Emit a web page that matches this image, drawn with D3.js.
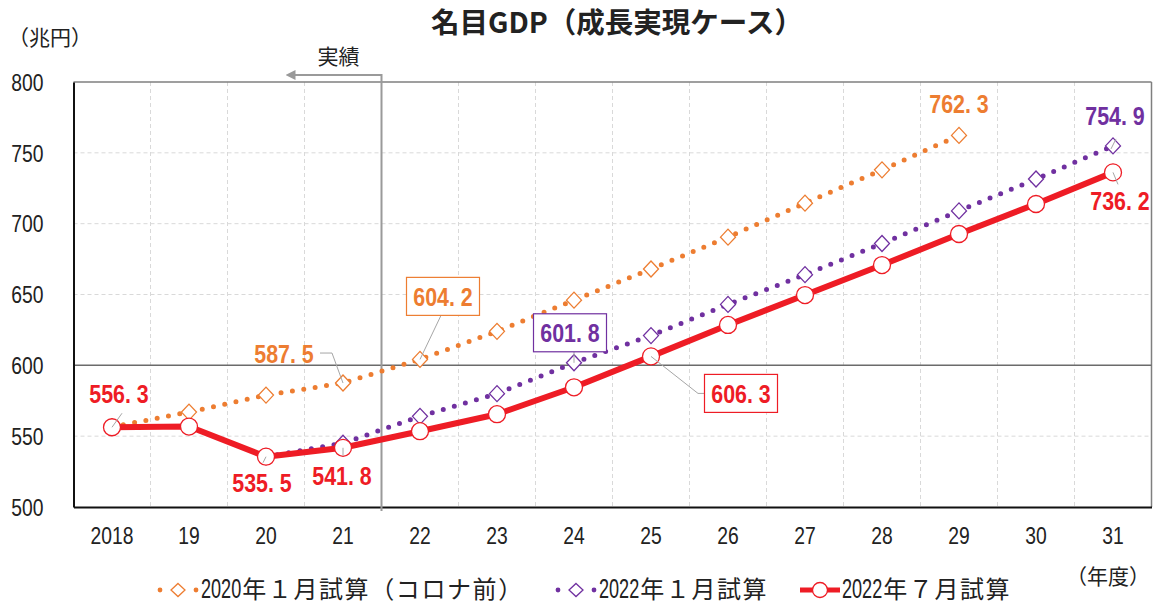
<!DOCTYPE html>
<html>
<head>
<meta charset="utf-8">
<script src="https://cdn.jsdelivr.net/npm/d3@7"></script>
<style>
  body { margin: 0; background: #fff; }
  text { font-family: "Liberation Sans", "Noto Sans CJK JP", sans-serif; }
  .cjk { font-family: "Noto Sans CJK JP", sans-serif; }
</style>
</head>
<body>
<div id="chart"></div>
<script>
// data
var years = ["2018", "19", "20", "21", "22", "23", "24", "25", "26", "27", "28", "29", "30", "31"];
var jan2020 = [556.5, 567, 579, 587.5, 604.2, 624, 646, 668, 690.5, 714.5, 738, 762.3, null, null];
var jan2022 = [null, null, 535.5, 545, 564, 580, 601.8, 621, 643, 664, 686, 709, 731.5, 754.9];
var jul2022 = [556.3, 556.8, 535.5, 541.8, 553.5, 565.5, 584.5, 606.3, 628.5, 649.6, 670.8, 692.7, 713.9, 736.2];
var yTicks = [500, 550, 600, 650, 700, 750, 800];
var seriesNames = ["2020年１月試算（コロナ前）", "2022年１月試算", "2022年７月試算"];

var svgWidth = 1154;
var svgHeight = 605;
var margin = {top: 82, right: 2.5, bottom: 98, left: 73.5};
var width = svgWidth - margin.left - margin.right;
var height = svgHeight - margin.top - margin.bottom;

var orange = "#ED7D31", purple = "#7030A0", red = "#EE1C25";

var svg = d3.select("#chart").append("svg")
  .attr("width", svgWidth)
  .attr("height", svgHeight);

var g = svg.append("g")
  .attr("transform", `translate(${margin.left}, ${margin.top})`);

var xScale = d3.scaleBand().domain(years).range([0, width]).padding(0);
var yScale = d3.scaleLinear().domain([500, 800]).range([height, 0]);
var cx = d => xScale(d) + xScale.bandwidth() / 2;

// gridlines
g.selectAll(".hgrid")
  .data(yTicks.filter(t => t != 500 && t != 800 && t != 600))
  .enter().append("line")
  .attr("x1", 0).attr("x2", width)
  .attr("y1", d => yScale(d)).attr("y2", d => yScale(d))
  .attr("stroke", "#d9d9d9").attr("stroke-dasharray", "4 3");

g.selectAll(".vgrid")
  .data(years.slice(1))
  .enter().append("line")
  .attr("x1", d => xScale(d)).attr("x2", d => xScale(d))
  .attr("y1", 0).attr("y2", height)
  .attr("stroke", "#d9d9d9").attr("stroke-dasharray", "4 3");

// frame
g.append("line").attr("x1", 0).attr("x2", width).attr("y1", 0).attr("y2", 0)
  .attr("stroke", "#7f7f7f").attr("stroke-width", 1.5);
g.append("line").attr("x1", width).attr("x2", width).attr("y1", 0).attr("y2", height)
  .attr("stroke", "#7f7f7f").attr("stroke-width", 1.5);
g.append("line").attr("x1", 0).attr("x2", width).attr("y1", yScale(600)).attr("y2", yScale(600))
  .attr("stroke", "#6b6b6b").attr("stroke-width", 1.5);

// axes (labels squeezed to look like a narrow face)
var leftAxis = d3.axisLeft(yScale).tickValues(yTicks).tickSize(0).tickPadding(0);
var bottomAxis = d3.axisBottom(xScale).tickSize(0).tickPadding(0);

var yAxisG = g.append("g").call(leftAxis);
yAxisG.select(".domain").attr("stroke", "#111").attr("stroke-width", 2);
yAxisG.selectAll("text")
  .attr("x", 0).attr("dy", "0.36em")
  .attr("transform", `translate(-30, 0) scale(0.84, 1)`)
  .attr("font-size", 23).attr("fill", "#222")
  .style("font-family", "'Liberation Sans', sans-serif");

var xAxisG = g.append("g").attr("transform", `translate(0, ${height})`).call(bottomAxis);
xAxisG.select(".domain").attr("stroke", "#111").attr("stroke-width", 2);
xAxisG.selectAll(".tick text")
  .attr("y", 0).attr("dy", 0)
  .attr("transform", `translate(0, 37) scale(0.84, 1)`)
  .attr("font-size", 23).attr("fill", "#222")
  .style("font-family", "'Liberation Sans', sans-serif");

// actuals separator
var sepX = xScale("22");
svg.append("defs").append("marker")
  .attr("id", "arrow").attr("viewBox", "0 0 10 10")
  .attr("refX", 2).attr("refY", 5)
  .attr("markerWidth", 5).attr("markerHeight", 5)
  .attr("orient", "auto")
  .append("path").attr("d", "M0,0 L10,5 L0,10 z").attr("fill", "#999");
g.append("path")
  .attr("d", `M${sepX},${height + 4} L${sepX},${-7} L${sepX - 88},${-7}`)
  .attr("fill", "none").attr("stroke", "#9a9a9a").attr("stroke-width", 2)
  .attr("marker-end", "url(#arrow)");
g.append("text").attr("class", "cjk")
  .attr("x", sepX - 43).attr("y", -18)
  .attr("text-anchor", "middle").attr("font-size", 21).attr("fill", "#222")
  .text("実績");

// series
function seriesData(vals) {
  return years.map((y, i) => ({year: y, v: vals[i]})).filter(d => d.v != null);
}
var line = d3.line().x(d => cx(d.year)).y(d => yScale(d.v));

function dottedSeries(vals, color) {
  var data = seriesData(vals);
  g.append("path").datum(data)
    .attr("d", line)
    .attr("fill", "none").attr("stroke", color)
    .attr("stroke-width", 5).attr("stroke-linecap", "round")
    .attr("stroke-dasharray", "0 11.5");
  g.selectAll(null).data(data).enter().append("path")
    .attr("transform", d => `translate(${cx(d.year)}, ${yScale(d.v)})`)
    .attr("d", "M0,-8 L7.5,0 L0,8 L-7.5,0 Z")
    .attr("fill", "#fff").attr("stroke", color).attr("stroke-width", 1.3);
}
dottedSeries(jan2020, orange);
dottedSeries(jan2022, purple);

var redData = seriesData(jul2022);
g.append("path").datum(redData)
  .attr("d", line)
  .attr("fill", "none").attr("stroke", red)
  .attr("stroke-width", 6).attr("stroke-linejoin", "round");
g.selectAll(null).data(redData).enter().append("circle")
  .attr("cx", d => cx(d.year)).attr("cy", d => yScale(d.v))
  .attr("r", 8.5)
  .attr("fill", "#fff").attr("stroke", red).attr("stroke-width", 1.3);

// data labels: integer part, point, decimal
var labels = [
  {yr: "2018", v: 556.3, color: red, x: 7, y: -33, box: false, lead: [[10, -14], [0, 0]]},
  {yr: "20", v: 535.5, color: red, x: -4, y: 26, box: false, lead: [[-3, 6], [0, 0]]},
  {yr: "21", v: 541.8, color: red, x: -1, y: 28, box: false, lead: [[0, 8], [0, 0]]},
  {yr: "21", v: 587.5, color: orange, x: -59, y: -29, box: false, lead: [[-23, -30], [-11, -30], [0, 0]]},
  {yr: "22", v: 604.2, color: orange, x: 23, y: -63, box: true, lead: [[21, -44], [0, 0]]},
  {yr: "24", v: 601.8, color: purple, x: -4, y: -30, box: true, lead: [[0, -11], [0, 0]]},
  {yr: "25", v: 606.3, color: red, x: 90, y: 37, box: true, lead: [[54, 37], [47, 37], [0, 0]]},
  {yr: "29", v: 762.3, color: orange, x: 0, y: -32, box: false, lead: null},
  {yr: "31", v: 754.9, color: purple, x: 2, y: -30, box: false, lead: [[3, -7], [-2, 3]]},
  {yr: "31", v: 736.2, color: red, x: 7, y: 28, box: false, lead: [[5, 12], [0, 0]]}
];

labels.forEach(function(d) {
  var px = cx(d.yr), py = yScale(d.v);
  if (d.lead) {
    g.append("path")
      .attr("d", "M" + d.lead.map(p => (px + p[0]) + "," + (py + p[1])).join(" L"))
      .attr("fill", "none").attr("stroke", "#a6a6a6").attr("stroke-width", 1);
  }
  if (d.box) {
    g.append("rect")
      .attr("x", px + d.x - 36.5).attr("y", py + d.y - 19)
      .attr("width", 73).attr("height", 38)
      .attr("fill", "#fff").attr("stroke", d.color).attr("stroke-width", 1.2);
  }
  var parts = d.v.toFixed(1).split(".");
  var t = g.append("text")
    .attr("transform", `translate(${px + d.x}, ${py + d.y}) scale(0.84, 1)`)
    .attr("dy", "0.36em")
    .attr("text-anchor", "middle")
    .attr("font-size", 25.5).attr("font-weight", "bold")
    .attr("fill", d.color);
  t.append("tspan").text(parts[0]);
  t.append("tspan").text(".");
  t.append("tspan").attr("dx", 7).text(parts[1]);
});

// units and title
svg.append("text").attr("class", "cjk")
  .attr("x", 8).attr("y", 45).attr("font-size", 21).attr("fill", "#222")
  .text("（兆円）");
svg.append("text").attr("class", "cjk")
  .attr("x", 1150).attr("y", 584).attr("text-anchor", "end")
  .attr("font-size", 21).attr("fill", "#222")
  .text("（年度）");
svg.append("text").attr("class", "cjk")
  .attr("x", 617).attr("y", 33).attr("text-anchor", "middle")
  .attr("font-size", 28.5).attr("font-weight", "bold").attr("fill", "#222")
  .text("名目GDP（成長実現ケース）");

// legend
var legendItems = [
  {name: seriesNames[0], color: orange, type: "diamond", x: 160},
  {name: seriesNames[1], color: purple, type: "diamond", x: 558},
  {name: seriesNames[2], color: red, type: "circle", x: 800}
];
var legend = svg.append("g").attr("transform", "translate(0, 598)");
legendItems.forEach(function(d) {
  var item = legend.append("g").attr("transform", `translate(${d.x}, 0)`);
  var tx;
  if (d.type == "diamond") {
    item.append("circle").attr("cx", 0).attr("cy", -8).attr("r", 2.4).attr("fill", d.color);
    item.append("circle").attr("cx", 36).attr("cy", -8).attr("r", 2.4).attr("fill", d.color);
    item.append("path").attr("transform", "translate(18, -8)")
      .attr("d", "M0,-6.5 L7,0 L0,6.5 L-7,0 Z")
      .attr("fill", "#fff").attr("stroke", d.color).attr("stroke-width", 1.3);
    tx = 41;
  } else {
    item.append("line").attr("x1", 0).attr("x2", 40).attr("y1", -8).attr("y2", -8)
      .attr("stroke", d.color).attr("stroke-width", 5);
    item.append("circle").attr("cx", 20).attr("cy", -8).attr("r", 7.5)
      .attr("fill", "#fff").attr("stroke", d.color).attr("stroke-width", 1.3);
    tx = 42;
  }
  // leading year in a narrow face, rest in the CJK face
  var digits = d.name.slice(0, 4), rest = d.name.slice(4);
  var dText = item.append("text")
    .attr("transform", `translate(${tx}, 0) scale(0.67, 1)`)
    .attr("font-size", 27).attr("fill", "#222")
    .text(digits);
  var dw = dText.node().getComputedTextLength() * 0.67;
  item.append("text").attr("class", "cjk")
    .attr("x", tx + dw + 1).attr("y", 0)
    .attr("font-size", 24).attr("letter-spacing", 1.6).attr("fill", "#222")
    .text(rest);
});
</script>
</body>
</html>
